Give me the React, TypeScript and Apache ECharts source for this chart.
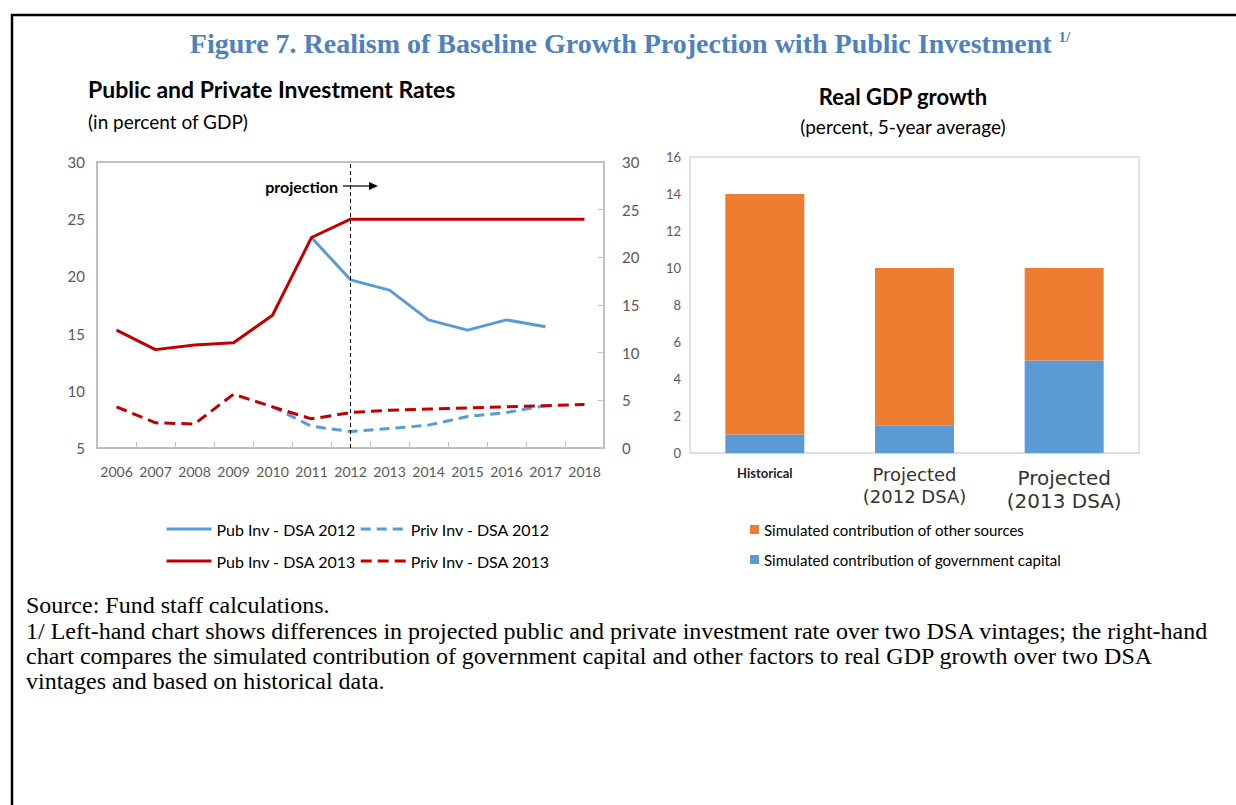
import React, { useEffect, useRef } from 'react';
import * as echarts from 'echarts';

const years = ['2006', '2007', '2008', '2009', '2010', '2011', '2012', '2013', '2014', '2015', '2016', '2017', '2018'];
const pubInv2012 = [null, null, null, null, null, 23.4, 19.7, 18.8, 16.2, 15.3, 16.2, 15.6, null];
const pubInv2013 = [15.3, 13.6, 14.0, 14.2, 16.6, 23.4, 25, 25, 25, 25, 25, 25, 25];
const privInv2012 = [null, null, null, null, 8.6, 6.9, 6.45, 6.7, 7.0, 7.75, 8.1, 8.7, null];
const privInv2013 = [8.6, 7.2, 7.1, 9.7, 8.6, 7.55, 8.1, 8.3, 8.4, 8.5, 8.6, 8.7, 8.8];
const projectionYear = '2012';

const gdpCategories = ['Historical', 'Projected\n(2012 DSA)', 'Projected\n(2013 DSA)'];
const govCapital = [1.0, 1.5, 5.0];
const otherSources = [13.0, 8.5, 5.0];

const mainTitle = 'Figure 7. Realism of Baseline Growth Projection with Public Investment';
const leftTitle = 'Public and Private Investment Rates';
const leftSub = '(in percent of GDP)';
const rightTitle = 'Real GDP growth';
const rightSub = '(percent, 5-year average)';
const footnotes = [
  'Source: Fund staff calculations.',
  '1/ Left-hand chart shows differences in projected public and private investment rate over two DSA vintages; the right-hand',
  'chart compares the simulated contribution of government capital and other factors to real GDP growth over two DSA',
  'vintages and based on historical data.',
];

const BLUE = '#5B9BD5';
const RED = '#C00000';
const ORANGE = '#ED7D31';
const AXIS_TXT = '#595959';
const SANS = 'Lato, "Noto Sans", sans-serif';
const SERIF = '"Liberation Serif", "Times New Roman", serif';

export default function App() {
  const ref = useRef<HTMLDivElement>(null);
  useEffect(() => {
    if (!ref.current) return;
    const chart = echarts.init(ref.current, undefined, { renderer: 'svg' });
    const footY = [605, 631, 656, 681];
    const lineLegend = {
      itemWidth: 45, itemHeight: 14, itemGap: 3,
      itemStyle: { opacity: 0 },
      lineStyle: { width: 3 },
      textStyle: { fontSize: 16, fontFamily: SANS, color: '#000' },
    };
    const option: any = {
      animation: false,
      backgroundColor: '#fff',
      grid: [
        { left: 97, top: 162, width: 507, height: 286, show: true, borderColor: '#BFBFBF', borderWidth: 2, containLabel: false },
        { left: 690, top: 157, width: 449, height: 296, show: true, borderColor: '#D9D9D9', borderWidth: 1.5, containLabel: false },
      ],
      xAxis: [
        {
          type: 'category', gridIndex: 0, data: years, boundaryGap: true,
          axisLine: { lineStyle: { color: '#BFBFBF', width: 2 } },
          axisTick: { show: true, inside: true, length: 6, lineStyle: { color: '#BFBFBF' } },
          axisLabel: { color: AXIS_TXT, fontSize: 14, fontFamily: SANS, margin: 16, interval: 0 },
          splitLine: { show: false },
        },
        {
          type: 'category', gridIndex: 1, data: gdpCategories,
          axisLine: { lineStyle: { color: '#D9D9D9' } },
          axisTick: { show: false },
          axisLabel: {
            margin: 10, interval: 0,
            formatter: (v: string, i: number) => {
              const parts = v.split('\n');
              if (i === 0) return `{h|${parts[0]}}`;
              if (i === 1) return parts.map((p) => `{p|${p}}`).join('\n');
              return `{q1|${parts[0]}}\n{q2|${parts[1]}}`;
            },
            rich: {
              h: { fontSize: 13, fontWeight: 'bold', fontFamily: SANS, color: '#222', lineHeight: 16, padding: [4, 0, 0, 0] },
              p: { fontSize: 18, fontFamily: '"DejaVu Sans", sans-serif', color: '#333', lineHeight: 22 },
              q1: { fontSize: 20, fontFamily: '"DejaVu Sans", sans-serif', color: '#333', lineHeight: 30 },
              q2: { fontSize: 20, fontFamily: '"DejaVu Sans", sans-serif', color: '#333', lineHeight: 16 },
            },
          },
        },
      ],
      yAxis: [
        {
          type: 'value', gridIndex: 0, position: 'left', min: 5, max: 30, interval: 5,
          axisLine: { show: false }, axisTick: { show: false }, splitLine: { show: false },
          axisLabel: { color: AXIS_TXT, fontSize: 15, fontFamily: SANS, margin: 12 },
        },
        {
          type: 'value', gridIndex: 0, position: 'right', min: 0, max: 30, interval: 5,
          axisLine: { show: false }, splitLine: { show: false },
          axisTick: { show: true, inside: true, length: 6, lineStyle: { color: '#BFBFBF' } },
          axisLabel: { color: AXIS_TXT, fontSize: 15, fontFamily: SANS, margin: 18 },
        },
        {
          type: 'value', gridIndex: 1, min: 0, max: 16, interval: 2,
          axisLine: { show: false }, axisTick: { show: false }, splitLine: { show: false },
          axisLabel: { color: AXIS_TXT, fontSize: 13, fontFamily: SANS, margin: 9 },
        },
      ],
      legend: [
        { ...lineLegend, data: ['Pub Inv - DSA 2012', 'Priv Inv - DSA 2012'], left: 160, top: 516 },
        { ...lineLegend, data: ['Pub Inv - DSA 2013', 'Priv Inv - DSA 2013'], left: 160, top: 548 },
        {
          data: ['Simulated contribution of other sources', 'Simulated contribution of government capital'],
          left: 745, top: 517, orient: 'vertical', icon: 'rect', itemWidth: 9, itemHeight: 9, itemGap: 15,
          textStyle: { fontSize: 15, fontFamily: SANS, color: '#000' },
        },
      ],
      series: [
        {
          name: 'Pub Inv - DSA 2012', type: 'line', xAxisIndex: 0, yAxisIndex: 0, data: pubInv2012,
          symbol: 'none', color: BLUE, lineStyle: { color: BLUE, width: 3 },
        },
        {
          name: 'Priv Inv - DSA 2012', type: 'line', xAxisIndex: 0, yAxisIndex: 0, data: privInv2012,
          symbol: 'none', color: BLUE, lineStyle: { color: BLUE, width: 3, type: [10, 6] },
        },
        {
          name: 'Pub Inv - DSA 2013', type: 'line', xAxisIndex: 0, yAxisIndex: 0, data: pubInv2013,
          symbol: 'none', color: RED, lineStyle: { color: RED, width: 3 },
          markLine: {
            silent: true, symbol: ['none', 'none'], label: { show: false },
            lineStyle: { color: '#000', width: 1, type: [4, 3] },
            data: [{ xAxis: projectionYear }],
          },
        },
        {
          name: 'Priv Inv - DSA 2013', type: 'line', xAxisIndex: 0, yAxisIndex: 0, data: privInv2013,
          symbol: 'none', color: RED, lineStyle: { color: RED, width: 3, type: [11, 6] },
        },
        {
          name: 'Simulated contribution of government capital', type: 'bar', xAxisIndex: 1, yAxisIndex: 2,
          stack: 'gdp', data: govCapital, barWidth: 79, color: BLUE, itemStyle: { color: BLUE },
        },
        {
          name: 'Simulated contribution of other sources', type: 'bar', xAxisIndex: 1, yAxisIndex: 2,
          stack: 'gdp', data: otherSources, barWidth: 79, color: ORANGE, itemStyle: { color: ORANGE },
        },
      ],
      graphic: [
        { type: 'line', shape: { x1: 11, y1: 15, x2: 1236, y2: 15 }, style: { stroke: '#000', lineWidth: 2.5 } },
        { type: 'line', shape: { x1: 12, y1: 14, x2: 12, y2: 805 }, style: { stroke: '#000', lineWidth: 2.5 } },
        {
          type: 'text', x: 630, y: 43,
          style: {
            text: `{m|${mainTitle} }{s|1/}`, textAlign: 'center', textVerticalAlign: 'middle',
            rich: {
              m: { fontSize: 28, fontWeight: 'bold', fontFamily: SERIF, fill: '#4F81BD', color: '#4F81BD' },
              s: { fontSize: 15, fontWeight: 'bold', fontFamily: SERIF, fill: '#4F81BD', color: '#4F81BD', verticalAlign: 'top' },
            },
          },
        },
        { type: 'text', x: 88, y: 89, style: { text: leftTitle, fontSize: 23, fontWeight: 'bold', fontFamily: SANS, fill: '#000', textVerticalAlign: 'middle' } },
        { type: 'text', x: 88, y: 121, style: { text: leftSub, fontSize: 19, fontFamily: SANS, fill: '#000', textVerticalAlign: 'middle' } },
        { type: 'text', x: 903, y: 96, style: { text: rightTitle, fontSize: 22, fontWeight: 'bold', fontFamily: SANS, fill: '#000', textAlign: 'center', textVerticalAlign: 'middle' } },
        { type: 'text', x: 903, y: 126, style: { text: rightSub, fontSize: 19, fontFamily: SANS, fill: '#000', textAlign: 'center', textVerticalAlign: 'middle' } },
        { type: 'text', x: 338, y: 186, style: { text: 'projection', fontSize: 16, fontWeight: 'bold', fontFamily: SANS, fill: '#000', textAlign: 'right', textVerticalAlign: 'middle' } },
        { type: 'line', shape: { x1: 343, y1: 186, x2: 372, y2: 186 }, style: { stroke: '#000', lineWidth: 1.2 } },
        { type: 'polygon', shape: { points: [[369, 182], [378, 186], [369, 190]] }, style: { fill: '#000' } },
        ...footnotes.map((t, i) => ({
          type: 'text', x: 26, y: footY[i],
          style: { text: t, fontSize: 24, fontFamily: SERIF, fill: '#000', textVerticalAlign: 'middle' },
        })),
      ],
    };
    chart.setOption(option);
    return () => chart.dispose();
  }, []);
  return <div ref={ref} style={{ position: 'fixed', left: 0, top: 0, width: 1236, height: 805 }} />;
}
